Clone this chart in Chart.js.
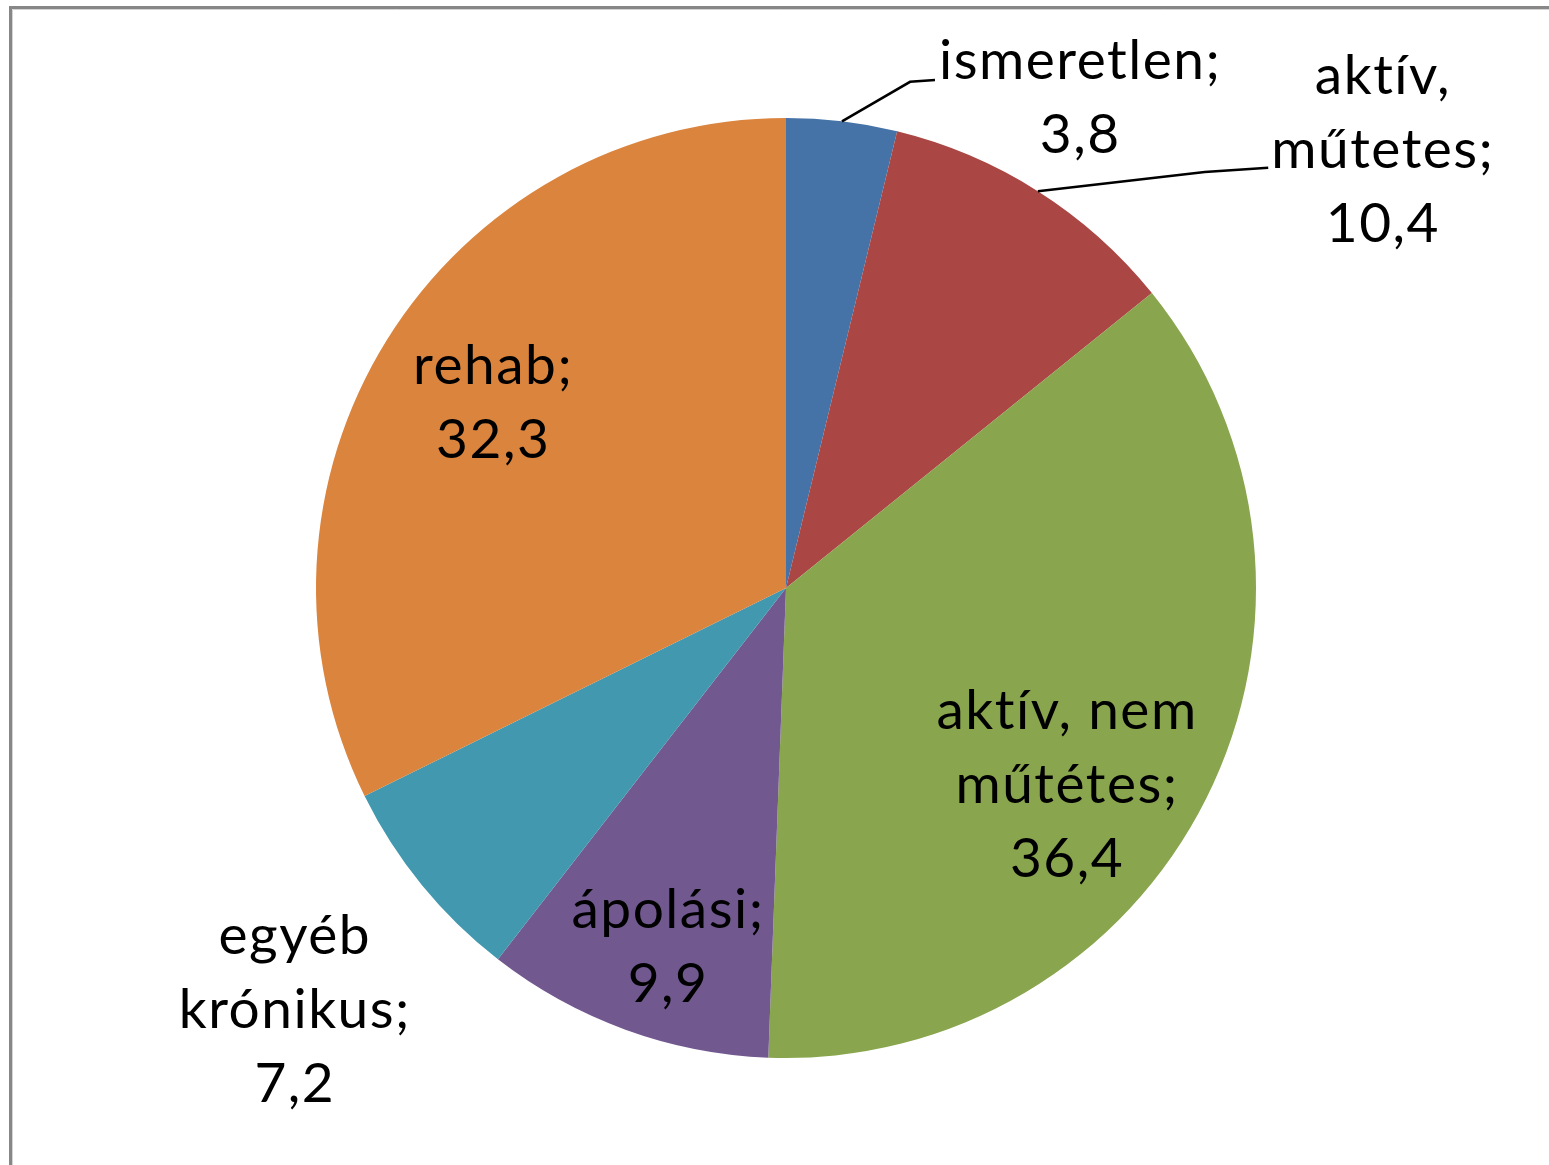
<!DOCTYPE html>
<html>
<head>
<meta charset="utf-8">
<script src="https://cdn.jsdelivr.net/npm/chart.js@4/dist/chart.umd.min.js"></script>
<style>
  html, body { margin: 0; padding: 0; background: #fff; }
  #wrap { width: 1549px; height: 1165px; position: relative; }
</style>
</head>
<body>
<div id="wrap"><canvas id="pie-canvas"></canvas></div>
<script>
// data
const categories = ['ismeretlen', 'aktív, műtetes', 'aktív, nem műtétes', 'ápolási', 'egyéb krónikus', 'rehab'];
const values = [3.8, 10.4, 36.4, 9.9, 7.2, 32.3];
const colors = ['#4572A7', '#AA4643', '#89A54E', '#71588F', '#4198AF', '#DB843D'];

// label layout, in units of the pie radius, relative to the pie centre
const labelPos = [[0.626, -1.041], [1.270, -0.932], [0.598, 0.419], [-0.251, 0.764], [-1.045, 0.898], [-0.623, -0.394]];
// leader lines: [elbow, end] or null
const leaders = [
    [[0.264, -1.077], [0.317, -1.081]],
    [[0.891, -0.885], [1.026, -0.894]],
    null, null, null, null
];

const FONT = '55px Lato';
const LINE_H = 74;
const WRAP_W = 300;

function wrap(ctx, text, maxW) {
    const words = text.split(' ');
    const lines = [];
    let cur = '';
    words.forEach(function(w) {
        const test = cur ? cur + ' ' + w : w;
        if (cur && ctx.measureText(test).width > maxW) {
            lines.push(cur);
            cur = w;
        } else {
            cur = test;
        }
    });
    if (cur) lines.push(cur);
    return lines;
}

const framePlugin = {
    id: 'frame',
    beforeDraw: function(chart) {
        const ctx = chart.ctx;
        ctx.save();
        ctx.strokeStyle = '#d4d4d4';
        ctx.lineWidth = 1;
        ctx.beginPath();
        ctx.moveTo(12.5, chart.height);
        ctx.lineTo(12.5, 9.5);
        ctx.lineTo(chart.width, 9.5);
        ctx.stroke();
        ctx.strokeStyle = '#878787';
        ctx.lineWidth = 3;
        ctx.beginPath();
        ctx.moveTo(10.5, chart.height);
        ctx.lineTo(10.5, 7.5);
        ctx.lineTo(chart.width, 7.5);
        ctx.stroke();
        ctx.restore();
    }
};

const labelPlugin = {
    id: 'pieLabels',
    afterDraw: function(chart) {
        const ctx = chart.ctx;
        const arcs = chart.getDatasetMeta(0).data;
        ctx.save();
        ctx.font = FONT;
        ctx.letterSpacing = '1.5px'; // also stops the "tí" ligature
        ctx.fillStyle = '#000';
        ctx.textAlign = 'center';
        ctx.textBaseline = 'middle';
        arcs.forEach(function(arc, i) {
            const cx = arc.x, cy = arc.y, r = arc.outerRadius;
            const lines = wrap(ctx, categories[i] + ';', WRAP_W);
            lines.push(String(values[i]).replace('.', ','));
            const lx = cx + labelPos[i][0] * r;
            const ly = cy + labelPos[i][1] * r;
            const top = ly - (lines.length - 1) * LINE_H / 2;
            lines.forEach(function(t, k) {
                ctx.fillText(t, lx, top + k * LINE_H);
            });
            if (leaders[i]) {
                const mid = (arc.startAngle + arc.endAngle) / 2;
                ctx.strokeStyle = '#000';
                ctx.lineWidth = 2.5;
                ctx.beginPath();
                ctx.moveTo(cx + Math.cos(mid) * r, cy + Math.sin(mid) * r);
                leaders[i].forEach(function(p) {
                    ctx.lineTo(cx + p[0] * r, cy + p[1] * r);
                });
                ctx.stroke();
            }
        });
        ctx.restore();
    }
};

const ctxPie = document.getElementById('pie-canvas').getContext('2d');
const chartPie = new Chart(ctxPie, {
    type: 'pie',
    data: {
        labels: categories,
        datasets: [{
            data: values,
            backgroundColor: colors,
            borderWidth: 0
        }]
    },
    options: {
        responsive: true,
        maintainAspectRatio: false,
        animation: false,
        layout: {
            padding: { left: 316, right: 293, top: 118, bottom: 107 }
        },
        plugins: {
            legend: { display: false },
            tooltip: { enabled: false }
        }
    },
    plugins: [framePlugin, labelPlugin]
});
</script>
</body>
</html>
